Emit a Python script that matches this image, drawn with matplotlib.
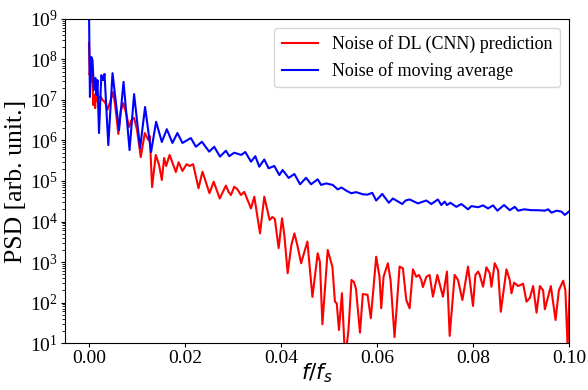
import matplotlib
matplotlib.use("Agg")
import matplotlib.pyplot as plt
import numpy as np

plt.rcParams['font.family'] = ['Liberation Serif', 'DejaVu Serif']
plt.rcParams['mathtext.fontset'] = 'dejavusans'

# Noise of DL (CNN) prediction (red)
f_dl = [0.0, 0.00015, 0.00035, 0.00056, 0.00073, 0.0009, 0.00111, 0.00129, 0.00146, 0.00173,
        0.00209, 0.00244, 0.00278, 0.00313, 0.00349, 0.00382, 0.00428, 0.00507, 0.00553, 0.00612,
        0.00658, 0.00716, 0.00772, 0.00835, 0.00887, 0.0094, 0.01002, 0.01079, 0.01163, 0.01238,
        0.01267, 0.01315, 0.01392, 0.01461, 0.01518, 0.01566, 0.01608, 0.01681, 0.0181, 0.01868,
        0.01948, 0.02035, 0.02098, 0.02171, 0.02282, 0.02365, 0.02511, 0.02599, 0.02724, 0.02854,
        0.02912, 0.02958, 0.03027, 0.0309, 0.03167, 0.03236, 0.03376, 0.03445, 0.03564, 0.03653,
        0.03764, 0.0382, 0.03873, 0.03952, 0.04023, 0.04071, 0.0414, 0.04217, 0.0428, 0.04342,
        0.0442, 0.04551, 0.04656, 0.04766, 0.04812, 0.04864, 0.04975, 0.05073, 0.05125, 0.05163,
        0.05209, 0.05271, 0.05324, 0.05372, 0.05407, 0.0547, 0.05522, 0.05564, 0.05647, 0.05706,
        0.05804, 0.05873, 0.05985, 0.06054, 0.0609, 0.06138, 0.06228, 0.06284, 0.06367, 0.06472,
        0.06541, 0.06612, 0.06681, 0.0675, 0.06821, 0.06875, 0.06925, 0.06958, 0.07029, 0.07098,
        0.07167, 0.07259, 0.07376, 0.07459, 0.07516, 0.0762, 0.07689, 0.07781, 0.07898, 0.08002,
        0.08052, 0.08107, 0.08142, 0.08211, 0.08282, 0.08351, 0.08386, 0.08455, 0.08524, 0.08581,
        0.08699, 0.08768, 0.08804, 0.08858, 0.08942, 0.09046, 0.09117, 0.09186, 0.09255, 0.09326,
        0.09395, 0.09463, 0.09499, 0.09624, 0.09722, 0.09791, 0.09881, 0.09927, 0.09973, 0.10021]
psd_dl = [2.55e8, 4.1e7, 8.7e7, 2.8e7, 4.9e7, 7.5e6, 1.33e7, 6.3e6, 1.5e7, 9.4e6,
          1.19e7, 1.22e7, 1.0e7, 9.4e6, 8.0e6, 5.7e6, 8.0e6, 1.58e7, 6.3e6, 1.45e6,
          5.1e6, 8.4e6, 4.8e6, 2.15e6, 3.2e6, 3.6e6, 1.8e6, 3.9e5, 1.53e6, 1.03e6,
          1.29e6, 7.1e4, 4.4e5, 2.5e5, 1.06e5, 3.7e5, 2.35e5, 4.4e5, 1.67e5, 2.9e5,
          1.77e5, 2.6e5, 2.35e5, 2.6e5, 6.6e4, 1.7e5, 5.0e4, 9.6e4, 3.7e4, 7.7e4,
          5.3e4, 4.5e4, 7.2e4, 6.3e4, 4.5e4, 5.4e4, 2.1e4, 4.1e4, 5.1e3, 4.1e4,
          1.09e4, 1.29e4, 1.15e4, 2.2e3, 1.2e4, 4.6e3, 5.3e2, 2.6e3, 5.1e3, 2.6e3,
          9.3e2, 3.2e3, 1.37e2, 1.64e3, 1.0e3, 29, 1.98e3, 7.5e2, 1.05e2, 95,
          21, 1.69e2, 8, 9, 21, 3.6e2, 3.2e2, 2.15e2, 18, 1.62e2,
          1.55e2, 41, 1.35e3, 4.3e2, 72, 4.3e2, 9.3e2, 3.6e2, 14, 7.7e2,
          7.0e2, 1.15e2, 72, 6.6e2, 4.3e2, 4.8e2, 3.6e2, 2.4e2, 4.3e2, 4.8e2,
          1.39e2, 4.8e2, 1.39e2, 5.8e2, 15, 4.8e2, 3.6e2, 1.15e2, 7.7e2, 82,
          4.8e2, 5.8e2, 4.8e2, 2.45e2, 7.4e2, 5.3e2, 2.45e2, 9.3e2, 6.3e2, 59,
          6.6e2, 3.6e2, 1.69e2, 3.1e2, 2.55e2, 2.9e2, 1.05e2, 1.29e2, 2.55e2, 56,
          2.55e2, 2.0e2, 68, 2.55e2, 37, 2.0e2, 3.45e2, 2.0e2, 8, 2.7e2]

# Noise of moving average (blue)
f_ma = [0.0, 0.0002, 0.00048, 0.00073, 0.00104, 0.00136, 0.00157, 0.00177, 0.00209, 0.00257,
        0.00292, 0.00324, 0.00403, 0.00491, 0.00626, 0.0072, 0.00846, 0.0094, 0.01065, 0.01169,
        0.01294, 0.01399, 0.01518, 0.01622, 0.01739, 0.01843, 0.01948, 0.02123, 0.02228, 0.02353,
        0.02505, 0.0261, 0.02729, 0.02854, 0.02923, 0.03027, 0.03173, 0.03257, 0.03376, 0.03466,
        0.03549, 0.03653, 0.03743, 0.03862, 0.03967, 0.04035, 0.04161, 0.0428, 0.04399, 0.04524,
        0.04628, 0.04766, 0.04837, 0.04942, 0.05079, 0.05184, 0.05261, 0.05359, 0.05463, 0.05568,
        0.05706, 0.05804, 0.05902, 0.05985, 0.06111, 0.06248, 0.06332, 0.06403, 0.06528, 0.06597,
        0.06681, 0.06854, 0.07029, 0.07134, 0.07271, 0.07342, 0.07411, 0.07459, 0.0753, 0.07655,
        0.0776, 0.07898, 0.07969, 0.08107, 0.08211, 0.08315, 0.0842, 0.08511, 0.08649, 0.08768,
        0.08873, 0.08942, 0.09067, 0.09221, 0.09359, 0.09499, 0.09568, 0.09639, 0.09743, 0.09848,
        0.09916, 0.10021]
psd_ma = [2.0e9, 1.19e7, 1.15e8, 9.7e7, 1.77e7, 3.5e7, 1.33e7, 3.1e7, 1.53e6, 4.1e7,
          3.1e7, 4.4e7, 7.7e5, 4.6e7, 1.8e6, 2.8e7, 5.8e5, 1.4e7, 6.5e5, 6.7e6,
          5.2e5, 2.9e6, 9.2e5, 1.9e6, 8.7e5, 1.53e6, 8.7e5, 1.15e6, 7.0e5, 9.3e5,
          5.3e5, 7.0e5, 4.0e5, 5.6e5, 4.1e5, 5.0e5, 4.4e5, 5.2e5, 3.0e5, 4.1e5,
          2.25e5, 3.4e5, 2.06e5, 2.35e5, 1.4e5, 1.87e5, 1.19e5, 1.49e5, 8.3e4, 1.2e5,
          8.3e4, 1.1e5, 8.0e4, 8.7e4, 8.0e4, 6.2e4, 6.9e4, 5.8e4, 5.0e4, 5.3e4,
          4.7e4, 4.6e4, 5.1e4, 3.3e4, 4.8e4, 2.9e4, 3.7e4, 3.3e4, 2.7e4, 3.3e4,
          3.5e4, 2.8e4, 3.3e4, 2.7e4, 3.5e4, 2.55e4, 3.1e4, 2.55e4, 2.9e4, 2.3e4,
          2.7e4, 2.0e4, 2.4e4, 2.25e4, 2.5e4, 2.1e4, 2.5e4, 1.85e4, 2.55e4, 1.9e4,
          2.3e4, 1.85e4, 2.0e4, 1.9e4, 1.9e4, 1.85e4, 2.0e4, 1.65e4, 1.85e4, 1.75e4,
          1.45e4, 1.85e4]

labels = ["Noise of DL (CNN) prediction", "Noise of moving average"]
xticks = [0.00, 0.02, 0.04, 0.06, 0.08, 0.10]
yticks = [1e1, 1e2, 1e3, 1e4, 1e5, 1e6, 1e7, 1e8, 1e9]

fig = plt.figure(figsize=(5.88, 3.90), dpi=100)
ax = fig.add_axes([0.1105, 0.1205, 0.857, 0.8308])

ax.plot(f_dl, psd_dl, color='red', lw=1.5, label=labels[0])
ax.plot(f_ma, psd_ma, color='blue', lw=1.5, label=labels[1])

ax.set_yscale('log')
ax.set_xlim(-0.005, 0.1)
ax.set_ylim(1e1, 1e9)
ax.set_yticks(yticks)
ax.set_xticks(xticks)
ax.set_xticklabels([f"{v:.2f}" for v in xticks])
ax.tick_params(labelsize=14, length=3, pad=2)
ax.tick_params(which='minor', length=2)
ax.set_xlabel(r'$f/f_s$', fontsize=15.5, va='top')
ax.xaxis.set_label_coords(0.5, -0.058)
ax.set_ylabel('PSD [arb. unit.]', fontsize=18.5, labelpad=2)
ax.legend(loc='upper right', fontsize=13)

fig.savefig('out.png', dpi=100)
